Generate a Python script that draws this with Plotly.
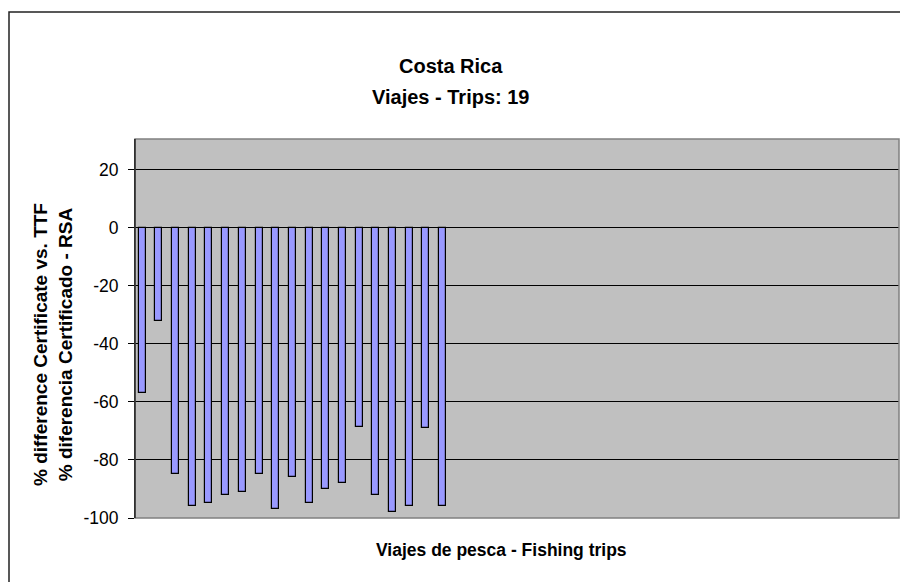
import plotly.graph_objects as go

# ---- data ----
trips = list(range(1, 20))
pct_diff = [-57, -32, -85, -96, -95, -92, -91, -85, -97, -86,
            -95, -90, -88, -68.5, -92, -98, -96, -69, -96]
y_ticks = [20, 0, -20, -40, -60, -80, -100]
y_tick_labels = ["20", "0", "-20", "-40", "-60", "-80", "-100"]

title_line1 = "Costa Rica"
title_line2 = "Viajes - Trips: 19"
x_title = "Viajes de pesca - Fishing trips"
y_title = "% difference Certificate vs. TTF<br>% diferencia Certificado - RSA"

W, H = 900, 582
L, R, T, B = 135, 899, 139, 518
pw, ph = R - L, B - T


def px(x):
    return (x - L) / pw


def py(y):
    return (B - y) / ph


fig = go.Figure()
fig.add_trace(go.Bar(
    x=trips, y=pct_diff, width=0.42,
    marker=dict(color="#9999FF", line=dict(color="#000000", width=1.2)),
))

font_family = "Liberation Sans, Arial, sans-serif"

fig.update_layout(
    width=W, height=H,
    margin=dict(l=L, r=W - R, t=T, b=H - B),
    paper_bgcolor="white", plot_bgcolor="#C0C0C0",
    showlegend=False,
    bargap=0,
    font=dict(family=font_family, color="black"),
    xaxis=dict(range=[0.562, 46.39], showticklabels=False, ticks="",
               showgrid=False, zeroline=False, showline=False),
    yaxis=dict(range=[-100, 30.5], tickvals=y_ticks, ticktext=y_tick_labels,
               ticks="outside",
               ticklen=6, tickcolor="black", tickwidth=1,
               showgrid=True, gridcolor="black", gridwidth=1,
               zeroline=False, showline=True, linecolor="black", linewidth=1,
               tickfont=dict(size=17.5, family=font_family, color="black"),
               ticklabelstandoff=6),
)

# plot area border (grey)
fig.add_shape(type="rect", xref="paper", yref="paper", x0=0, x1=1, y0=0, y1=1,
              line=dict(color="#808080", width=1.5), layer="above")
# left axis line drawn again on top in black
fig.add_shape(type="line", xref="paper", yref="paper", x0=0, x1=0, y0=0, y1=1,
              line=dict(color="black", width=1), layer="above")
# outer chart frame
fig.add_shape(type="rect", xref="paper", yref="paper",
              x0=px(9), x1=px(960), y0=py(640), y1=py(12),
              line=dict(color="#222222", width=1.5), layer="above")

fig.add_annotation(text=title_line1, xref="paper", yref="paper",
                   x=px(451), y=py(66), showarrow=False,
                   xanchor="center", yanchor="middle",
                   font=dict(size=20, family=font_family, color="black"),
                   )
fig.add_annotation(text=title_line2, xref="paper", yref="paper",
                   x=px(451), y=py(97), showarrow=False,
                   xanchor="center", yanchor="middle",
                   font=dict(size=20, family=font_family, color="black"))
fig.add_annotation(text=x_title, xref="paper", yref="paper",
                   x=px(501), y=py(550), showarrow=False,
                   xanchor="center", yanchor="middle",
                   font=dict(size=17.5, family=font_family, color="black"))
fig.add_annotation(text=y_title, xref="paper", yref="paper",
                   x=px(53), y=py(345), showarrow=False, textangle=-90,
                   xanchor="center", yanchor="middle",
                   font=dict(size=19, family=font_family, color="black"))

for a in fig.layout.annotations:
    a.text = "<b>" + a.text.replace("<br>", "</b><br><b>") + "</b>"

fig.write_html("out.html", config={"displayModeBar": False})

# remove default page margin so the figure sits at the window origin
with open("out.html", "r", encoding="utf-8") as f:
    html = f.read()
html = html.replace("<head>", "<head><style>html,body{margin:0;padding:0;overflow:hidden}</style>", 1)
with open("out.html", "w", encoding="utf-8") as f:
    f.write(html)
